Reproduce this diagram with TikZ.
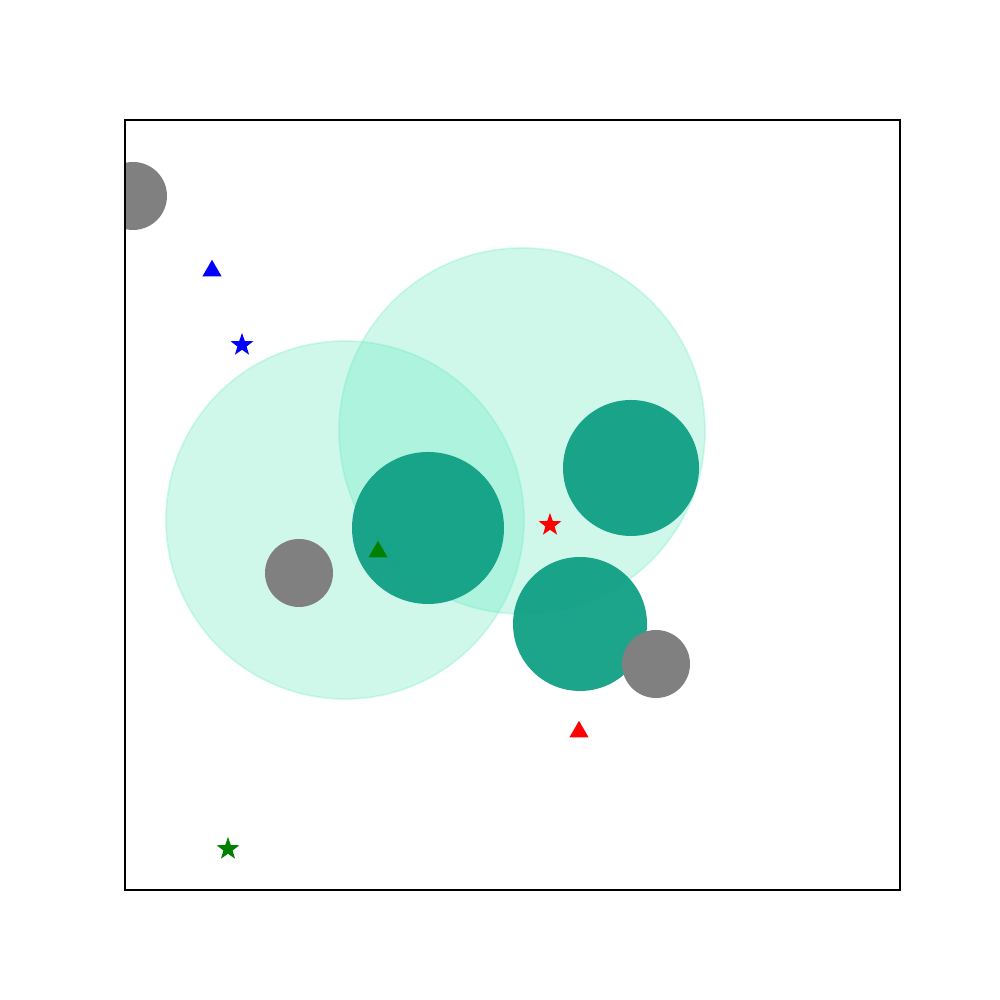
\documentclass[tikz,border=0pt]{standalone}
\usetikzlibrary{shapes.geometric}
\definecolor{zonefill}{RGB}{90,231,186}
\definecolor{bodyfill}{RGB}{16,160,133}
\definecolor{rockfill}{RGB}{128,128,128}
\definecolor{markgreen}{RGB}{0,128,0}
\tikzset{
    zone/.style={circle, fill=zonefill, fill opacity=0.29, draw=zonefill,
        draw opacity=0.25, line width=0.5pt, inner sep=0pt, minimum size=#1},
    body/.style={circle, fill=bodyfill, opacity=0.95, inner sep=0pt, minimum size=#1},
    rock/.style={circle, fill=rockfill, inner sep=0pt, minimum size=#1},
    trimark/.style={regular polygon, regular polygon sides=3, fill=#1,
        inner sep=0pt, minimum size=0.22cm, yshift=-0.028cm},
    starmark/.style={star, star points=5, star point ratio=2.5, fill=#1,
        inner sep=0pt, minimum size=0.24cm}
}
\begin{document}
\begin{tikzpicture}
\useasboundingbox (0,0) rectangle (10,10);
\begin{scope}
\clip (1.25,1.10) rectangle (9.00,8.80);
% coverage zones
\node[zone=3.58cm] (zoneA) at (3.45,4.80) {};
\node[zone=3.66cm] (zoneB) at (5.22,5.69) {};
% bodies
\node[body=1.52cm] (bodyA) at (4.28,4.72) {};
\node[body=1.36cm] (bodyB) at (6.31,5.32) {};
\node[body=1.34cm] (bodyC) at (5.80,3.76) {};
% obstacles
\node[rock=0.68cm] (rockA) at (1.33,8.04) {};
\node[rock=0.68cm] (rockB) at (2.99,4.27) {};
\node[rock=0.68cm] (rockC) at (6.56,3.36) {};
% start and goal markers
\node[trimark=blue] (startBlue) at (2.12,7.32) {};
\node[starmark=blue] (goalBlue) at (2.42,6.55) {};
\node[trimark=markgreen] (startGreen) at (3.78,4.51) {};
\node[starmark=markgreen] (goalGreen) at (2.28,1.51) {};
\node[trimark=red] (startRed) at (5.79,2.71) {};
\node[starmark=red] (goalRed) at (5.50,4.75) {};
\end{scope}
\draw[line width=0.35pt] (1.25,1.10) rectangle (9.00,8.80);
\end{tikzpicture}
\end{document}
